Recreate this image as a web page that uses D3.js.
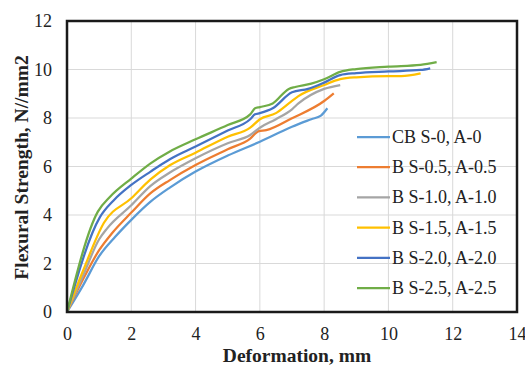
<!DOCTYPE html>
<html>
<head>
<meta charset="utf-8">
<script src="https://cdn.jsdelivr.net/npm/d3@7"></script>
<style>
  body { margin: 0; background: #fff; }
  text { font-family: "Liberation Serif", "Times New Roman", serif; fill: #222; }
</style>
</head>
<body>
<div id="chart"></div>
<script>
// Flexural strength vs deformation, six mixes
const seriesNames = ["CB S-0, A-0", "B S-0.5, A-0.5", "B S-1.0, A-1.0",
                     "B S-1.5, A-1.5", "B S-2.0, A-2.0", "B S-2.5, A-2.5"];
const seriesColors = ["#5B9BD5", "#ED7D31", "#A5A5A5", "#FFC000", "#4472C4", "#70AD47"];

const xTicks = [0, 2, 4, 6, 8, 10, 12, 14];
const yTicks = [0, 2, 4, 6, 8, 10, 12];

// [deformation mm, strength N/mm2]
const cbS0 = [[0,0],[0.5,1.1],[1.0,2.3],[1.5,3.1],[2.0,3.8],[2.6,4.55],[3.2,5.13],[4.0,5.79],
  [5.0,6.45],[6.0,7.02],[7.0,7.64],[7.6,7.95],[7.9,8.1],[8.1,8.4]];
const bS05 = [[0,0],[0.5,1.35],[1.0,2.55],[1.4,3.25],[2.0,4.1],[2.6,4.9],[3.2,5.44],[4.0,6.06],
  [5.0,6.71],[5.7,7.15],[5.95,7.45],[6.2,7.5],[7.0,7.99],[8.0,8.7],[8.3,9.02]];
const bS10 = [[0,0],[0.5,1.5],[1.0,3.0],[1.25,3.45],[2.0,4.4],[2.6,5.2],[3.2,5.75],[4.0,6.34],
  [5.0,6.96],[5.7,7.3],[6.0,7.6],[6.5,7.95],[7.0,8.36],[7.2,8.6],[8.0,9.2],[8.5,9.36]];
const bS15 = [[0,0],[0.5,1.7],[1.15,3.68],[2.0,4.69],[2.6,5.47],[3.2,6.05],[4.0,6.57],[5.0,7.23],
  [5.7,7.6],[6.0,7.95],[6.5,8.2],[6.9,8.6],[7.2,8.9],[8.0,9.36],[8.5,9.6],[9.0,9.68],
  [10.0,9.73],[10.4,9.73],[11.0,9.84]];
const bS20 = [[0,0],[1.02,3.9],[1.45,4.6],[2.0,5.24],[2.6,5.79],[3.2,6.3],[4.0,6.82],[5.0,7.48],
  [5.7,7.95],[5.85,8.15],[6.0,8.2],[6.4,8.4],[7.0,9.06],[7.5,9.2],[8.0,9.46],[8.5,9.77],
  [9.0,9.85],[10.0,9.92],[11.0,9.98],[11.3,10.05]];
const bS25 = [[0,0],[0.96,4.14],[1.34,4.75],[2.0,5.5],[2.6,6.13],[3.2,6.62],[4.0,7.12],[5.0,7.71],
  [5.7,8.15],[5.85,8.4],[6.0,8.45],[6.4,8.6],[6.9,9.2],[7.1,9.28],[7.6,9.42],[8.0,9.6],
  [8.5,9.9],[9.0,10.02],[10.0,10.12],[11.0,10.19],[11.5,10.3]];
const allSeries = [cbS0, bS05, bS10, bS15, bS20, bS25];

const width = 525, height = 365;
const margin = { top: 21, right: 8, bottom: 53, left: 67 };
const plot_width = width - margin.left - margin.right;
const plot_height = height - margin.top - margin.bottom;

const svg = d3.select("#chart").append("svg")
  .attr("width", width).attr("height", height);

const plot = svg.append("g")
  .attr("transform", `translate(${margin.left},${margin.top})`);

const x = d3.scaleLinear().domain([0, 14]).range([0, plot_width]);
const y = d3.scaleLinear().domain([0, 12]).range([plot_height, 0]);

// gridlines
plot.append("g").selectAll("line").data(xTicks).join("line")
  .attr("x1", d => x(d)).attr("x2", d => x(d))
  .attr("y1", 0).attr("y2", plot_height)
  .style("stroke", "#d9d9d9").style("stroke-width", 1);
plot.append("g").selectAll("line").data(yTicks).join("line")
  .attr("x1", 0).attr("x2", plot_width)
  .attr("y1", d => y(d)).attr("y2", d => y(d))
  .style("stroke", "#d9d9d9").style("stroke-width", 1);

// axes (labels only)
const xAxis = plot.append("g")
  .attr("transform", `translate(0,${plot_height})`)
  .call(d3.axisBottom(x).tickValues(xTicks).tickSize(0).tickPadding(15));
const yAxis = plot.append("g")
  .call(d3.axisLeft(y).tickValues(yTicks).tickSize(0).tickPadding(15));
[xAxis, yAxis].forEach(a => {
  a.select(".domain").remove();
  a.selectAll("text")
    .style("font-family", "'Liberation Serif', serif")
    .style("font-size", "18px")
    .style("fill", "#222");
});

// lines
const lineGen = d3.line()
  .x(d => x(d[0]))
  .y(d => y(d[1]))
  .curve(d3.curveMonotoneX);

allSeries.forEach((s, i) => {
  plot.append("path")
    .datum(s)
    .attr("d", lineGen)
    .style("fill", "none")
    .style("stroke", seriesColors[i])
    .style("stroke-width", 2.25)
    .style("stroke-linejoin", "round");
});

// frame
plot.append("rect")
  .attr("width", plot_width).attr("height", plot_height)
  .style("fill", "none").style("stroke", "#1a1a1a").style("stroke-width", 2.5);

// axis titles
svg.append("text")
  .attr("x", 297)
  .attr("y", 362)
  .attr("text-anchor", "middle")
  .style("font-size", "19.5px").style("font-weight", "bold")
  .text("Deformation, mm");

svg.append("text")
  .attr("transform", "translate(28,167.5) rotate(-90)")
  .attr("text-anchor", "middle")
  .style("font-size", "19.5px").style("font-weight", "bold")
  .text("Flexural Strength, N//mm2");

// legend
const legend = svg.append("g").attr("transform", "translate(357,137)");
seriesNames.forEach((name, i) => {
  const row = legend.append("g").attr("transform", `translate(0,${i * 30.2})`);
  row.append("line")
    .attr("x1", 0).attr("x2", 33).attr("y1", 0).attr("y2", 0)
    .style("stroke", seriesColors[i]).style("stroke-width", 2.25);
  row.append("text")
    .attr("x", 35).attr("y", 6)
    .style("font-size", "18px")
    .text(name);
});
</script>
</body>
</html>
